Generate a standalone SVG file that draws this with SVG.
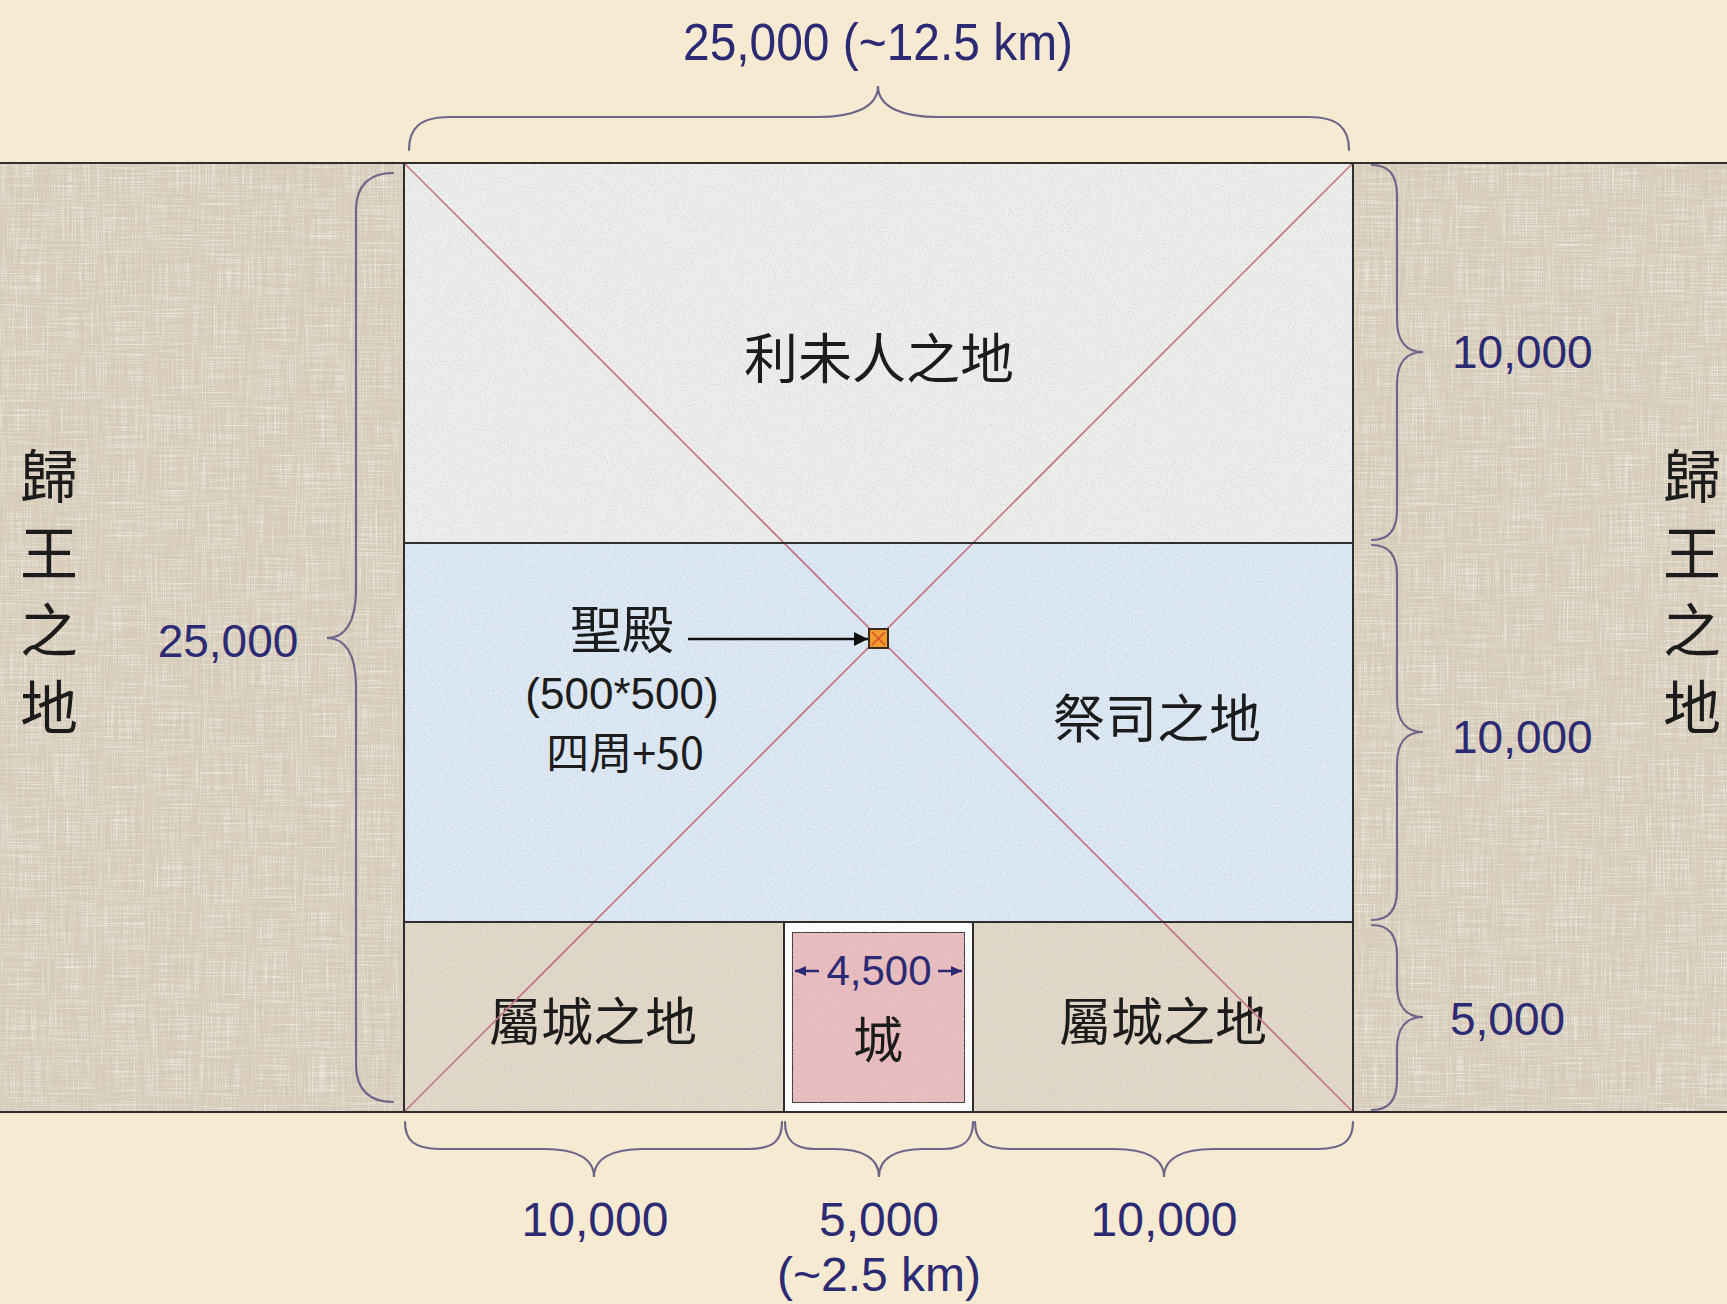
<svg xmlns="http://www.w3.org/2000/svg" width="1727" height="1304" viewBox="0 0 1727 1304">
<defs>
<style>
.num{font-family:"Liberation Sans",Arial,sans-serif;fill:#2d2a74;}
.cjk{font-family:"Noto Sans CJK TC","Noto Sans CJK SC",sans-serif;fill:#1c1c1c;}
.lat{font-family:"Liberation Sans",Arial,sans-serif;fill:#1c1c1c;}
.brace{fill:none;stroke:#6e6689;stroke-width:2.2;stroke-linecap:round;}
.edge{fill:none;stroke:#2e2e2e;stroke-width:2;}
.diag{stroke:#c27585;stroke-width:1.6;}
</style>
<filter id="grain" x="0" y="0" width="100%" height="100%">
<feTurbulence type="fractalNoise" baseFrequency="0.7" numOctaves="2" seed="4" result="n"/>
<feColorMatrix in="n" type="matrix" values="0 0 0 0 0.45  0 0 0 0 0.43  0 0 0 0 0.4  1.1 0 0 0 -0.52" result="a"/>
<feComposite in="a" in2="SourceGraphic" operator="in" result="b"/>
<feMerge><feMergeNode in="SourceGraphic"/><feMergeNode in="b"/></feMerge>
</filter>
<filter id="linen" x="0" y="0" width="100%" height="100%">
<feTurbulence type="fractalNoise" baseFrequency="0.02 0.9" numOctaves="2" seed="7" result="h"/>
<feTurbulence type="fractalNoise" baseFrequency="0.9 0.02" numOctaves="2" seed="9" result="v"/>
<feComposite in="h" in2="v" operator="arithmetic" k2="0.5" k3="0.5" result="hv"/>
<feColorMatrix in="hv" type="matrix" values="0 0 0 0 1  0 0 0 0 0.98  0 0 0 0 0.94  2.2 0 0 0 -1.05" result="a"/>
<feComposite in="a" in2="SourceGraphic" operator="in" result="b"/>
<feMerge><feMergeNode in="SourceGraphic"/><feMergeNode in="b"/></feMerge>
</filter>
<marker id="ah" viewBox="0 0 10 10" refX="10" refY="5" markerWidth="15" markerHeight="14" markerUnits="userSpaceOnUse" orient="auto">
<path d="M0,0 L10,5 L0,10 z" fill="#111"/>
</marker>
<marker id="nh" viewBox="0 0 10 10" refX="10" refY="5" markerWidth="11" markerHeight="11" markerUnits="userSpaceOnUse" orient="auto">
<path d="M0,0.5 L10,5 L0,9.5 z" fill="#2d2a74"/>
</marker>
</defs>

<g id="background">
<rect x="0" y="0" width="1727" height="1304" fill="#f6ebd2"/>
<rect x="0" y="163" width="1727" height="949" fill="#d7ccba" filter="url(#linen)"/>
<line x1="0" y1="163" x2="1727" y2="163" class="edge"/>
<line x1="0" y1="1112" x2="1727" y2="1112" class="edge"/>
</g>

<g id="levite-land">
<rect x="404" y="163" width="949" height="380" fill="#eeeeec" filter="url(#grain)"/>
<text class="cjk" x="879" y="379" font-size="54" text-anchor="middle">利未人之地</text>
</g>

<g id="priest-land">
<rect x="404" y="543" width="949" height="379" fill="#dde9f6" filter="url(#grain)"/>
<text class="cjk" x="1157" y="738" font-size="52" text-anchor="middle">祭司之地</text>
</g>

<g id="city-land-left">
<rect x="404" y="922" width="380" height="190" fill="#e3d9c9" filter="url(#grain)"/>
<text class="cjk" x="593" y="1041" font-size="52" text-anchor="middle">屬城之地</text>
</g>

<g id="city-land-right">
<rect x="973" y="922" width="380" height="190" fill="#e3d9c9" filter="url(#grain)"/>
<text class="cjk" x="1163" y="1041" font-size="52" text-anchor="middle">屬城之地</text>
</g>

<g id="city">
<rect x="784" y="922" width="189" height="190" fill="#fbfbfb"/>
<rect x="792" y="932" width="173" height="171" fill="#eabdc1" stroke="#3a3a3a" stroke-width="2" filter="url(#grain)"/>
<text class="cjk" x="878" y="1058" font-size="50" text-anchor="middle">城</text>
<text class="num" x="879" y="985" font-size="42" text-anchor="middle">4,500</text>
<line x1="819" y1="971" x2="795" y2="971" stroke="#2d2a74" stroke-width="2.5" marker-end="url(#nh)"/>
<line x1="938" y1="971" x2="962" y2="971" stroke="#2d2a74" stroke-width="2.5" marker-end="url(#nh)"/>
</g>

<g id="frame">
<line x1="404" y1="163" x2="1353" y2="1112" class="diag"/>
<line x1="1353" y1="163" x2="404" y2="1112" class="diag"/>
<rect x="404" y="163" width="949" height="949" class="edge"/>
<line x1="404" y1="543" x2="1353" y2="543" class="edge"/>
<line x1="404" y1="922" x2="1353" y2="922" class="edge"/>
<line x1="784" y1="922" x2="784" y2="1112" class="edge"/>
<line x1="973" y1="922" x2="973" y2="1112" class="edge"/>
</g>

<g id="temple">
<rect x="869" y="629" width="19" height="19" fill="#f29a2c" stroke="#3a2a1a" stroke-width="2"/>
<path d="M872,632 L885,645 M885,632 L872,645" stroke="#d8502a" stroke-width="1.6"/>
</g>

<g id="temple-label">
<text class="cjk" x="622" y="649" font-size="52" text-anchor="middle">聖殿</text>
<text class="lat" x="622" y="709" font-size="44" text-anchor="middle">(500*500)</text>
<text class="cjk" x="625" y="769" font-size="43" text-anchor="middle">四周+50</text>
</g>

<g id="kings-land-left">
<text class="cjk" x="49" y="498" font-size="58" text-anchor="middle">歸</text>
<text class="cjk" x="49" y="575" font-size="58" text-anchor="middle">王</text>
<text class="cjk" x="49" y="652" font-size="58" text-anchor="middle">之</text>
<text class="cjk" x="49" y="729" font-size="58" text-anchor="middle">地</text>
</g>

<g id="kings-land-right">
<text class="cjk" x="1692" y="498" font-size="58" text-anchor="middle">歸</text>
<text class="cjk" x="1692" y="575" font-size="58" text-anchor="middle">王</text>
<text class="cjk" x="1692" y="652" font-size="58" text-anchor="middle">之</text>
<text class="cjk" x="1692" y="729" font-size="58" text-anchor="middle">地</text>
</g>

<g id="dimension-labels">
<text class="num" x="878" y="60" font-size="52" text-anchor="middle" textLength="390" lengthAdjust="spacingAndGlyphs">25,000 (~12.5 km)</text>
<text class="num" x="228" y="657" font-size="46" text-anchor="middle">25,000</text>
<text class="num" x="1452" y="368" font-size="46">10,000</text>
<text class="num" x="1452" y="753" font-size="46">10,000</text>
<text class="num" x="1450" y="1035" font-size="46">5,000</text>
<text class="num" x="595" y="1236" font-size="48" text-anchor="middle">10,000</text>
<text class="num" x="879" y="1236" font-size="48" text-anchor="middle">5,000</text>
<text class="num" x="1164" y="1236" font-size="48" text-anchor="middle">10,000</text>
<text class="num" x="879" y="1291" font-size="48" text-anchor="middle">(~2.5 km)</text>
</g>

<g id="connectors">
<line x1="688" y1="639" x2="868" y2="639" stroke="#111" stroke-width="2.6" marker-end="url(#ah)"/>
<path class="brace" d="M409,150 C409,128 420,117 450,117 L818,117 C852,117 878,108 878,86 C878,108 904,117 938,117 L1308,117 C1338,117 1349,128 1349,150"/>
<path class="brace" d="M393,173 C370,173 356,185 356,210 L356,590 C356,622 345,638 327,638 C345,638 356,654 356,686 L356,1065 C356,1090 370,1102 393,1102"/>
<path class="brace" d="M1372,165 C1389,165 1397,175 1397,195 L1397,320 C1397,342 1407,352 1423,352 C1407,352 1397,362 1397,384 L1397,510 C1397,530 1389,540 1372,540"/>
<path class="brace" d="M1372,545 C1389,545 1397,555 1397,575 L1397,700 C1397,722 1407,732 1423,732 C1407,732 1397,742 1397,764 L1397,890 C1397,910 1389,920 1372,920"/>
<path class="brace" d="M1372,925 C1389,925 1397,935 1397,955 L1397,985 C1397,1007 1407,1017 1423,1017 C1407,1017 1397,1027 1397,1049 L1397,1080 C1397,1100 1389,1110 1372,1110"/>
<path class="brace" d="M405,1122 C405,1140 414,1149 440,1149 L545,1149 C575,1149 594,1158 594,1177 C594,1158 613,1149 643,1149 L748,1149 C774,1149 782,1140 782,1122"/>
<path class="brace" d="M785,1122 C785,1140 794,1149 815,1149 L835,1149 C862,1149 879,1158 879,1177 C879,1158 896,1149 923,1149 L943,1149 C964,1149 973,1140 973,1122"/>
<path class="brace" d="M975,1122 C975,1140 984,1149 1010,1149 L1115,1149 C1145,1149 1164,1158 1164,1177 C1164,1158 1183,1149 1213,1149 L1318,1149 C1344,1149 1353,1140 1353,1122"/>
</g>
</svg>
